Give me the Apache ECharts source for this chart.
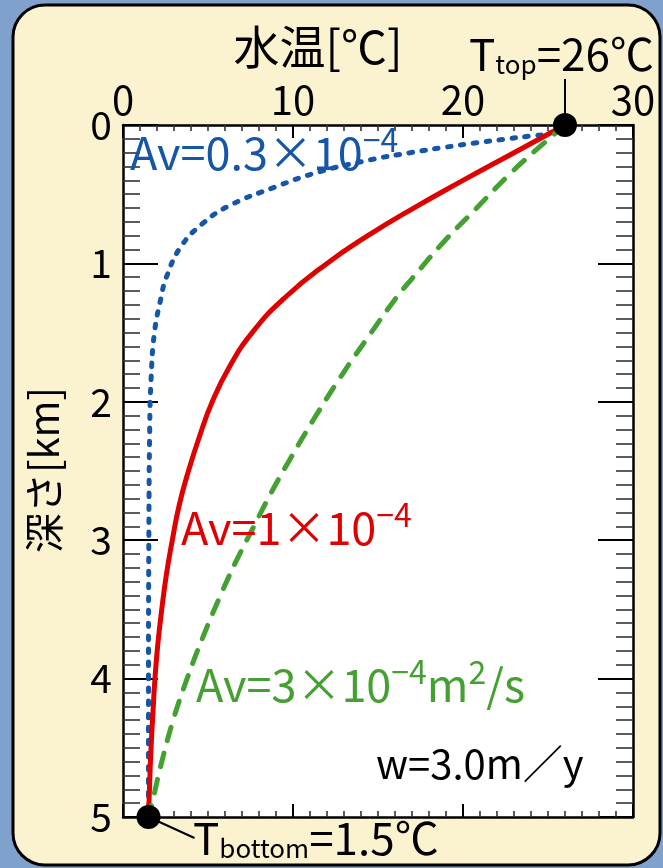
<!DOCTYPE html>
<html>
<head>
<meta charset="utf-8">
<script src="https://cdn.jsdelivr.net/npm/echarts@6/dist/echarts.min.js"></script>
<style>
html, body { margin: 0; padding: 0; background: #7fa1cb; }
#chart { width: 663px; height: 868px; }
</style>
</head>
<body>
<div id="chart"></div>
<script>
// Temperature profiles: depth [km] vs water temperature [°C]
const depthAv03 = [0, 0.058, 0.08, 0.10, 0.13, 0.16, 0.20, 0.25, 0.34, 0.45, 0.58, 0.71, 0.88, 1.10, 1.24, 1.50, 1.84, 2.20, 3.00, 4.00, 5.00];
const tempAv03  = [26.0, 25.1, 23.9, 22.6, 20.7, 19.0, 16.9, 14.6, 11.5, 8.9, 6.3, 4.7, 3.4, 2.55, 2.25, 1.85, 1.65, 1.57, 1.52, 1.50, 1.50];

const depthAv1 = [0, 0.20, 0.40, 0.60, 0.80, 1.00, 1.25, 1.50, 1.75, 2.00, 2.25, 2.50, 2.75, 3.00, 3.25, 3.50, 3.75, 4.00, 4.25, 4.50, 4.75, 5.00];
const tempAv1  = [26.0, 23.0, 20.0, 17.1, 14.4, 12.0, 9.5, 7.6, 6.25, 5.25, 4.5, 3.85, 3.3, 2.9, 2.55, 2.28, 2.05, 1.88, 1.76, 1.65, 1.57, 1.50];

const depthAv3 = [0, 0.18, 0.36, 0.60, 0.84, 1.11, 1.26, 1.50, 1.82, 2.13, 2.42, 2.66, 2.90, 3.14, 3.38, 3.70, 3.99, 4.30, 4.64, 4.88, 5.00];
const tempAv3  = [26.0, 24.3, 22.7, 20.8, 18.9, 17.0, 16.0, 14.6, 12.8, 11.2, 9.8, 8.7, 7.7, 6.7, 5.8, 4.7, 3.8, 2.95, 2.2, 1.75, 1.50];

// Boundary conditions
const topTemp = 26, topDepth = 0;
const bottomTemp = 1.5, bottomDepth = 5;

// Axis ranges
const tempMin = 0, tempMax = 30, tempStep = 10;
const depthMin = 0, depthMax = 5, depthStep = 1;

const FONT = '"Noto Sans CJK JP", "Noto Sans", sans-serif';
const BLUE = '#1656a6', RED = '#e00000', GREEN = '#45a032';

function pairs(t, d) { return t.map((v, i) => [v, d[i]]); }

const chart = echarts.init(document.getElementById('chart'), null, { renderer: 'canvas' });

const xTick = { show: true, inside: true, length: 13, lineStyle: { color: '#000', width: 2 } };
const xMinor = { show: true, splitNumber: 10, length: 6, lineStyle: { color: '#333', width: 1.6 } };
const yTick = { show: true, inside: true, length: 35, lineStyle: { color: '#000', width: 2 } };
const yMinor = { show: true, splitNumber: 10, length: 17, lineStyle: { color: '#333', width: 1.6 } };
const axLine = { show: true, onZero: false, lineStyle: { color: '#000', width: 2.5 } };

const option = {
  backgroundColor: '#7fa1cb',
  animation: false,
  grid: { left: 123, right: 30, top: 125, bottom: 51, show: true, backgroundColor: '#fff', borderWidth: 0 },
  xAxis: [
    {
      type: 'value', position: 'top', min: tempMin, max: tempMax, interval: tempStep,
      axisLine: axLine, axisTick: xTick, minorTick: xMinor, splitLine: { show: false },
      axisLabel: { show: true, fontSize: 40, color: '#000', fontFamily: FONT, margin: 5 }
    },
    {
      type: 'value', position: 'bottom', min: tempMin, max: tempMax, interval: tempStep,
      axisLine: axLine, axisTick: xTick, minorTick: xMinor, splitLine: { show: false },
      axisLabel: { show: false }
    }
  ],
  yAxis: [
    {
      type: 'value', position: 'left', inverse: true, min: depthMin, max: depthMax, interval: depthStep,
      axisLine: axLine, axisTick: yTick, minorTick: yMinor, splitLine: { show: false },
      axisLabel: { show: true, fontSize: 39, color: '#000', fontFamily: FONT, margin: 11 }
    },
    {
      type: 'value', position: 'right', inverse: true, min: depthMin, max: depthMax, interval: depthStep,
      axisLine: axLine, axisTick: yTick, minorTick: yMinor, splitLine: { show: false },
      axisLabel: { show: false }
    }
  ],
  series: [
    {
      name: 'Av=0.3', type: 'line', data: pairs(tempAv03, depthAv03), smooth: 0.45,
      symbol: 'none', lineStyle: { color: BLUE, width: 5, type: [3.5, 9.5], cap: 'round' }, z: 3
    },
    {
      name: 'Av=1', type: 'line', data: pairs(tempAv1, depthAv1), smooth: 0.5,
      symbol: 'none', lineStyle: { color: RED, width: 5 }, z: 3
    },
    {
      name: 'Av=3', type: 'line', data: pairs(tempAv3, depthAv3), smooth: 0.4,
      symbol: 'none', lineStyle: { color: GREEN, width: 5, type: [14, 13], cap: 'round' }, z: 3
    },
    {
      name: 'boundary', type: 'scatter', clip: false, symbol: 'circle', symbolSize: 24,
      itemStyle: { color: '#000', opacity: 1 }, z: 5,
      data: [[topTemp, topDepth], [bottomTemp, bottomDepth]]
    }
  ]
};
chart.setOption(option);

// Panel, titles, annotations and leader lines
const pTop = chart.convertToPixel({ gridIndex: 0 }, [topTemp, topDepth]);
const pBot = chart.convertToPixel({ gridIndex: 0 }, [bottomTemp, bottomDepth]);

function avText(x, y, rich, text, color) {
  return {
    type: 'text', x: x, y: y, z: 20,
    style: { text: text, fill: color, rich: rich, font: '45px ' + FONT }
  };
}
function avRich(color) {
  return {
    m: { fontSize: 45, lineHeight: 58, fontFamily: FONT, color: color },
    s: { fontSize: 32, lineHeight: 32, fontFamily: FONT, color: color, verticalAlign: 'top' }
  };
}
function tRich() {
  return {
    m: { fontSize: 44, lineHeight: 46, fontFamily: FONT, color: '#000' },
    s: { fontSize: 26, lineHeight: 32, fontFamily: FONT, color: '#000', verticalAlign: 'bottom' }
  };
}

chart.setOption({
  graphic: [
    {
      type: 'rect', z: -10, silent: true,
      shape: { x: 13, y: 5, width: 647, height: 860, r: 32 },
      style: { fill: '#fbf3cf', stroke: '#000', lineWidth: 3 }
    },
    {
      type: 'text', x: 318, y: 47, z: 20,
      style: { text: '水温[℃]', font: '46px ' + FONT, fill: '#000', align: 'center', verticalAlign: 'middle' }
    },
    {
      type: 'text', x: 44, y: 470, z: 20, rotation: Math.PI / 2,
      style: { text: '深さ[km]', font: '40px ' + FONT, fill: '#000', align: 'center', verticalAlign: 'middle' }
    },
    avText(130, 124, avRich(BLUE), '{m|Av=0.3×10}{s|−4}', BLUE),
    avText(181, 499, avRich(RED), '{m|Av=1×10}{s|−4}', RED),
    avText(196, 656, avRich(GREEN), '{m|Av=3×10}{s|−4}{m|m}{s|2}{m|/s}', GREEN),
    {
      type: 'text', x: 376, y: 764, z: 20,
      style: { text: 'w=3.0m／y', font: '40px ' + FONT, fill: '#000', verticalAlign: 'middle' }
    },
    {
      type: 'text', x: 469, y: 31, z: 20,
      style: { text: '{m|T}{s|top}{m|=26℃}', rich: tRich(), font: '44px ' + FONT }
    },
    {
      type: 'text', x: 193, y: 815, z: 20,
      style: { text: '{m|T}{s|bottom}{m|=1.5℃}', rich: tRich(), font: '44px ' + FONT }
    },
    {
      type: 'line', z: 4,
      shape: { x1: pTop[0], y1: pTop[1], x2: pTop[0], y2: pTop[1] - 46 },
      style: { stroke: '#000', lineWidth: 2 }
    },
    {
      type: 'line', z: 4,
      shape: { x1: pBot[0], y1: pBot[1], x2: pBot[0] + 46, y2: pBot[1] + 21 },
      style: { stroke: '#000', lineWidth: 2 }
    }
  ]
});
</script>
</body>
</html>
